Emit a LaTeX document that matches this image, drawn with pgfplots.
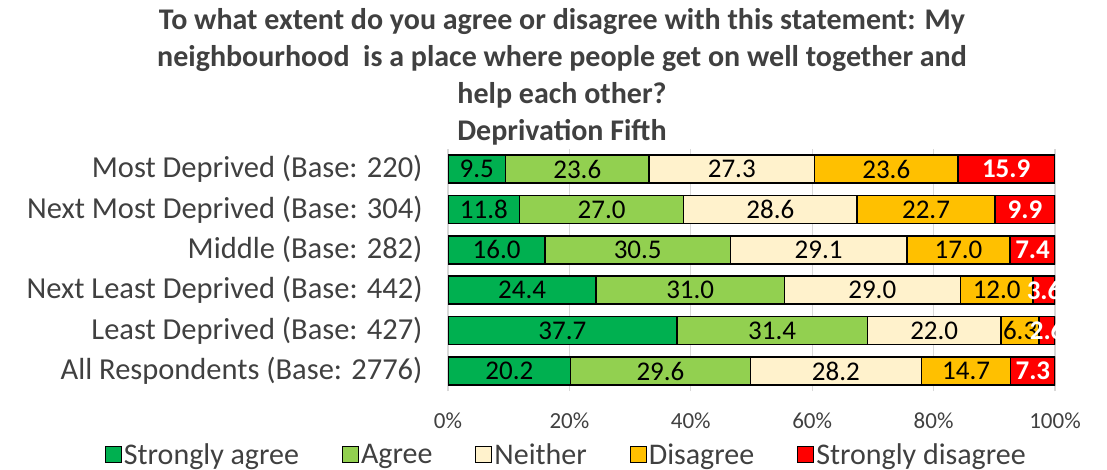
\documentclass[border=0pt]{standalone}
\usepackage{pgfplots}
\pgfplotsset{compat=1.18}
\usepackage{pgfplotstable}
\usepackage{fontspec}
\setmainfont{Carlito}
\definecolor{cSA}{HTML}{00B050}
\definecolor{cA}{HTML}{92D050}
\definecolor{cN}{HTML}{FFF2CC}
\definecolor{cD}{HTML}{FFC000}
\definecolor{cSD}{HTML}{FF0000}
\definecolor{txt}{HTML}{404040}
\pgfplotstableread{
y sa a n d sd
5 9.5 23.6 27.3 23.6 15.9
4 11.8 27.0 28.6 22.7 9.9
3 16.0 30.5 29.1 17.0 7.4
2 24.4 31.0 29.0 12.0 3.6
1 37.7 31.4 22.0 6.3 2.6
0 20.2 29.6 28.2 14.7 7.3
}\data
% label positions: middle of each segment
\pgfplotstablecreatecol[create col/expr={\thisrow{sa}/2}]{msa}\data
\pgfplotstablecreatecol[create col/expr={\thisrow{sa}+\thisrow{a}/2}]{ma}\data
\pgfplotstablecreatecol[create col/expr={\thisrow{sa}+\thisrow{a}+\thisrow{n}/2}]{mn}\data
\pgfplotstablecreatecol[create col/expr={\thisrow{sa}+\thisrow{a}+\thisrow{n}+\thisrow{d}/2}]{md}\data
\pgfplotstablecreatecol[create col/expr={\thisrow{sa}+\thisrow{a}+\thisrow{n}+\thisrow{d}+\thisrow{sd}/2}]{msd}\data
\pgfplotsset{
  geom/.style={at={(448pt,78.8pt)}, anchor=south west, scale only axis,
    width=607pt, height=242.4pt, xmin=0, xmax=100, ymin=-0.5, ymax=5.5},
  lab/.style={draw=none, mark=none, point meta=explicit,
    nodes near coords={\pgfmathprintnumber[fixed,fixed zerofill,precision=1,assume math mode=true]{\pgfplotspointmeta}},
    every node near coord/.style={anchor=center, inner sep=0pt, font=\fontsize{27}{27}\selectfont, text=black, #1}},
  lab/.default={}
}
\begin{document}
\begin{tikzpicture}
\useasboundingbox (0,0) rectangle (1107pt,470pt);
\node[font=\fontsize{30}{37.2}\selectfont\bfseries, align=center, text=txt] at (562pt,393pt)
 {To what extent do you agree or disagree with this statement: My\\
  neighbourhood\ \ is a place where people get on well together and\\
  help each other?\\
  Deprivation Fifth};
\begin{axis}[
  geom,
  xbar stacked, bar width=28pt,
  xtick={0,20,...,100},
  xticklabel={\pgfmathprintnumber{\tick}\%},
  xticklabel style={font=\fontsize{23}{23}\selectfont, text=txt, yshift=-18pt},
  /pgf/number format/assume math mode=true,
  ytick={0,...,5},
  yticklabels={All Respondents (Base: 2776), Least Deprived (Base: 427), Next Least Deprived (Base: 442), Middle (Base: 282), Next Most Deprived (Base: 304), Most Deprived (Base: 220)},
  yticklabel style={font=\fontsize{30.5}{30.5}\selectfont, text=txt, xshift=-22pt},
  major tick length=0pt, tick style={draw=none},
  axis line style={draw=none},
  xmajorgrids, grid style={draw=black!15, line width=1.2pt},
  legend columns=5,
  legend style={at={(0.195,-0.262)}, anchor=center, draw=none, fill=none,
    font=\fontsize{30}{30}\selectfont, text=txt,
    /tikz/every even column/.append style={column sep=41pt}},
  legend image code/.code={\draw[#1, line width=1pt] (0pt,-8pt) rectangle (16pt,8pt);},
]
\addplot[fill=cSA, draw=black, line width=1.5pt] table[x=sa,y=y]{\data};
\addlegendentry{Strongly agree}
\addplot[fill=cA, draw=black, line width=1.5pt] table[x=a,y=y]{\data};
\addlegendentry{Agree}
\addplot[fill=cN, draw=black, line width=1.5pt] table[x=n,y=y]{\data};
\addlegendentry{Neither}
\addplot[fill=cD, draw=black, line width=1.5pt] table[x=d,y=y]{\data};
\addlegendentry{Disagree}
\addplot[fill=cSD, draw=black, line width=1.5pt] table[x=sd,y=y]{\data};
\addlegendentry{Strongly disagree}
\end{axis}
\begin{axis}[geom, hide axis, clip=true, /pgf/number format/assume math mode=true]
\addplot[lab] table[x=msa,y=y,meta=sa]{\data};
\addplot[lab] table[x=ma,y=y,meta=a]{\data};
\addplot[lab] table[x=mn,y=y,meta=n]{\data};
\addplot[lab] table[x=md,y=y,meta=d]{\data};
\addplot[lab={text=white, font=\fontsize{27}{27}\selectfont\bfseries}] table[x=msd,y=y,meta=sd]{\data};
\end{axis}
\end{tikzpicture}
\end{document}
